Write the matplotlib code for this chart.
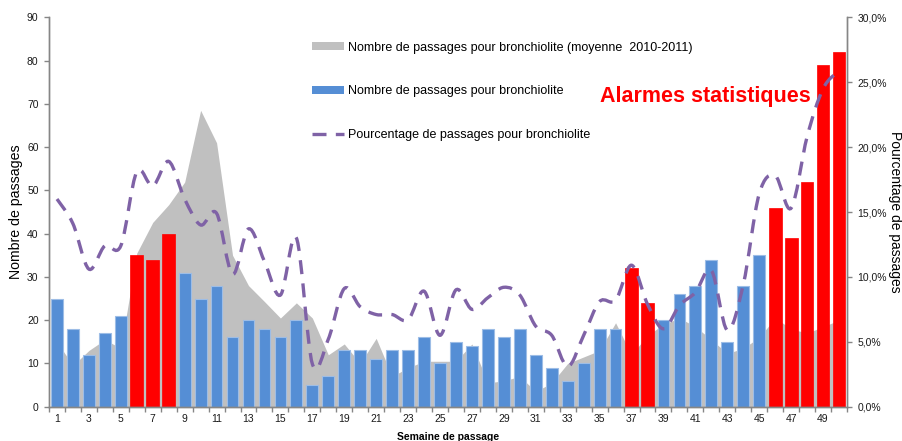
import matplotlib
matplotlib.use("Agg")
import matplotlib.pyplot as plt
from matplotlib.path import Path
from matplotlib.patches import PathPatch, Patch
from matplotlib.lines import Line2D
from matplotlib.ticker import FixedLocator, FuncFormatter
import numpy as np

plt.rcParams['font.family'] = ['Liberation Sans', 'DejaVu Sans']

weeks = list(range(1, 51))

passages = [25, 18, 12, 17, 21, 35, 34, 40, 31, 25,
            28, 16, 20, 18, 16, 20, 5, 7, 13, 13,
            11, 13, 13, 16, 10, 15, 14, 18, 16, 18,
            12, 9, 6, 10, 18, 18, 32, 24, 20, 26,
            28, 34, 15, 28, 35, 46, 39, 52, 79, 82]

alarme = [0, 0, 0, 0, 0, 1, 1, 1, 0, 0,
          0, 0, 0, 0, 0, 0, 0, 0, 0, 0,
          0, 0, 0, 0, 0, 0, 0, 0, 0, 0,
          0, 0, 0, 0, 0, 0, 1, 1, 0, 0,
          0, 0, 0, 0, 0, 1, 1, 1, 1, 1]

moyenne = [15, 9.5, 13, 15.5, 13.5, 35.5, 42.6, 46.7, 51.9, 68.5,
           61, 35, 28, 24.3, 20.5, 24, 20.5, 12, 14.5, 10,
           15.8, 7, 9, 10.5, 10.5, 10.5, 14.5, 5.5, 6, 7,
           3.5, 5.5, 10, 11.5, 13, 19.4, 12, 16.5, 19, 20.5,
           18.5, 15.5, 12.3, 13.5, 16, 20.5, 18, 17, 18.5, 20]

pourcentage = [16.0, 14.1, 10.6, 12.4, 12.4, 18.1, 17.0, 18.9, 16.0, 14.0,
               14.9, 10.2, 13.7, 11.2, 8.6, 13.0, 3.3, 5.2, 9.1, 7.7,
               7.1, 7.1, 6.7, 8.9, 5.5, 9.0, 7.5, 8.4, 9.2, 8.6,
               6.2, 5.5, 3.1, 5.5, 8.1, 8.2, 10.9, 7.9, 6.0, 7.8,
               8.8, 10.5, 5.9, 9.4, 16.4, 17.8, 15.3, 20.8, 24.5, 25.9]

x_labels = [str(w) if w % 2 == 1 else "" for w in weeks]

BLUE = '#558ED5'
RED = '#FF0000'
GREY = '#C0C0C0'
PURPLE = '#7F62A6'
AXIS = '#868686'

fig = plt.figure(figsize=(9.03, 4.41), dpi=100)
ax = fig.add_axes([49/903, 34.3/441, (847-49)/903, (406.7-17.3)/441])
ax2 = ax.twinx()

# grey area (moyenne 2010-2011)
ax.fill_between(weeks, 0, moyenne, color=GREY, linewidth=0, zorder=1)

# bars
for w, v, a in zip(weeks, passages, alarme):
    if a:
        ax.bar(w, v, width=0.8, color=RED, edgecolor=RED, linewidth=0.5, zorder=2)
    else:
        ax.bar(w, v, width=0.74, color=BLUE, edgecolor='#9DBDE6', linewidth=0.8, zorder=2)

ax.set_xlim(0.5, 50.5)
ax.set_ylim(0, 90)
ax2.set_ylim(0, 0.30)

# smoothed percentage line (Bezier through points)
pts = np.column_stack([weeks, np.array(pourcentage) / 100.0])
n = len(pts)
verts = [tuple(pts[0])]
codes = [Path.MOVETO]
for i in range(n - 1):
    p0 = pts[i - 1] if i > 0 else pts[i]
    p1 = pts[i]
    p2 = pts[i + 1]
    p3 = pts[i + 2] if i + 2 < n else pts[i + 1]
    c1 = p1 + (p2 - p0) / 6.0
    c2 = p2 - (p3 - p1) / 6.0
    verts += [tuple(c1), tuple(c2), tuple(p2)]
    codes += [Path.CURVE4] * 3
dash = (0, (4.2, 2.8))
patch = PathPatch(Path(verts, codes), fill=False, edgecolor=PURPLE, linewidth=2.4,
                  linestyle=dash, capstyle='butt', zorder=5)
ax2.add_patch(patch)

# spines
for a in (ax, ax2):
    a.spines['top'].set_visible(False)
    for s in ('left', 'right', 'bottom'):
        a.spines[s].set_color(AXIS)
        a.spines[s].set_linewidth(1.0)

# x ticks: boundaries as ticks, labels at centers
ax.xaxis.set_major_locator(FixedLocator(weeks))
ax.set_xticklabels(x_labels)
ax.tick_params(axis='x', which='major', length=0, pad=5.5, labelsize=7.5, colors='#1a1a1a')
ax.xaxis.set_minor_locator(FixedLocator([w + 0.5 for w in [0] + weeks]))
ax.tick_params(axis='x', which='minor', length=3.5, color=AXIS, width=1.0)

ax.set_yticks(range(0, 91, 10))
ax.tick_params(axis='y', length=3.5, color=AXIS, width=1.0, pad=4, labelsize=7.5, labelcolor='#1a1a1a')

ax2.set_yticks([0, 0.05, 0.10, 0.15, 0.20, 0.25, 0.30])
ax2.yaxis.set_major_formatter(FuncFormatter(lambda v, p: f"{v*100:.1f}%".replace('.', ',')))
ax2.tick_params(axis='y', length=3.5, color=AXIS, width=1.0, pad=4, labelsize=7.5, labelcolor='#1a1a1a')

ax.set_ylabel("Nombre de passages", fontsize=10.2, labelpad=3)
fig.text(895/903, 1 - 212/441, "Pourcentage de passages", fontsize=10, rotation=270,
         ha='center', va='center')
fig.text(448/903, 1 - 437.5/441, "Semaine de passage", fontsize=7.5, fontweight='bold',
         ha='center', va='center')

fig.text(600/903, 1 - 102/441, "Alarmes statistiques", color=RED, fontsize=15.5,
         fontweight='bold', ha='left', va='baseline')

handles = [Patch(facecolor=GREY, edgecolor='none'),
           Patch(facecolor=BLUE, edgecolor='none'),
           Line2D([0], [0], color=PURPLE, linewidth=2.4, linestyle=dash)]
labels = ["Nombre de passages pour bronchiolite (moyenne  2010-2011)",
          "Nombre de passages pour bronchiolite",
          "Pourcentage de passages pour bronchiolite"]
leg = fig.legend(handles, labels, loc='upper left', bbox_to_anchor=(312/903, 1 - 41.5/441),
                 frameon=False, fontsize=9, handlelength=2.6, handleheight=0.6,
                 handletextpad=0.3, labelspacing=2.55, borderpad=0, borderaxespad=0)

fig.savefig("out.png", dpi=100)
